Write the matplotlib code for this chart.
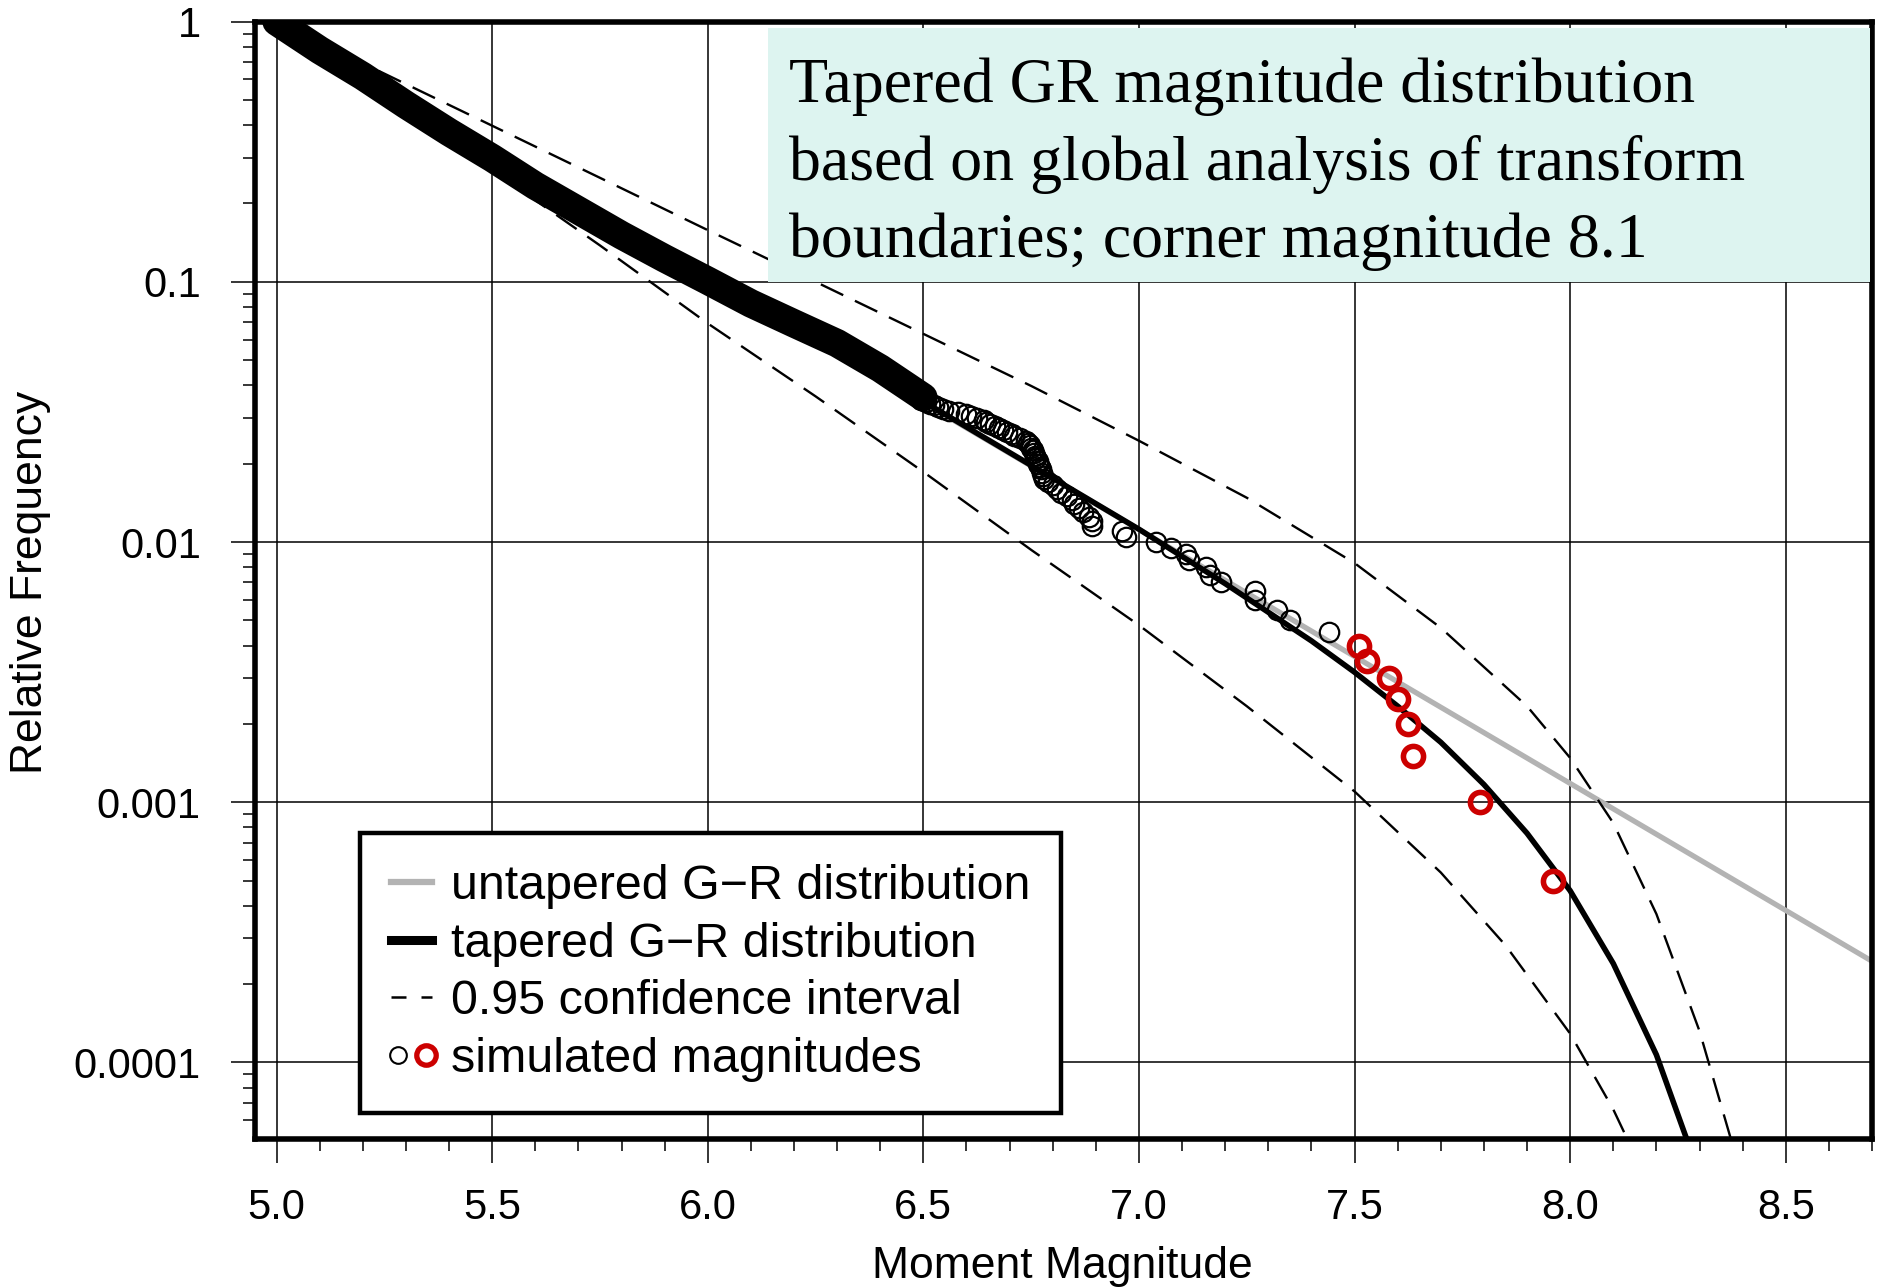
import numpy as np
import matplotlib
matplotlib.use("Agg")
import matplotlib.pyplot as plt
from matplotlib.lines import Line2D
from matplotlib.legend_handler import HandlerTuple
from matplotlib.patches import Rectangle
from matplotlib.ticker import FixedLocator, LogLocator, NullFormatter

# ---------------- data ----------------
x_ticks = [5.0, 5.5, 6.0, 6.5, 7.0, 7.5, 8.0, 8.5]
x_tick_labels = ["5.0", "5.5", "6.0", "6.5", "7.0", "7.5", "8.0", "8.5"]
y_ticks = [1.0, 0.1, 0.01, 0.001, 0.0001]
y_tick_labels = ["1", "0.1", "0.01", "0.001", "0.0001"]

# untapered G-R line
untapered_mag = [5.0, 8.7]
untapered_freq = [1.0, 2.45e-4]

# tapered G-R line
tapered_mag = [5.0, 5.5, 6.0, 6.5, 7.0, 7.2, 7.4, 7.5, 7.6, 7.7, 7.8, 7.9,
               8.0, 8.1, 8.2, 8.3]
tapered_freq = [1.0, 0.324, 0.107, 0.0347, 0.0112, 0.00692, 0.00417,
                0.00316, 0.00234, 0.0017, 0.00117, 0.00076, 0.000457,
                0.00024, 0.000107, 3.7e-5]

# 0.95 confidence interval
upper_mag = [5.0, 5.25, 5.5, 5.75, 6.0, 6.25, 6.5, 6.75, 7.0, 7.25, 7.5,
             7.7, 7.9, 8.0, 8.1, 8.2, 8.3, 8.4]
upper_freq = [1.0, 0.631, 0.398, 0.251, 0.158, 0.1, 0.0631, 0.0398, 0.0245,
              0.0148, 0.0083, 0.00468, 0.00234, 0.00148, 0.000832,
              0.000372, 0.000132, 3.55e-5]
lower_mag = [5.0, 5.25, 5.5, 5.75, 6.0, 6.25, 6.5, 6.75, 7.0, 7.25, 7.5,
             7.7, 7.85, 8.0, 8.1, 8.2]
lower_freq = [1.0, 0.525, 0.269, 0.138, 0.0692, 0.0363, 0.0186, 0.00933,
              0.00479, 0.00234, 0.0011, 0.000537, 0.000282, 0.000129,
              6.6e-5, 2.95e-5]

# simulated magnitudes: dense part of the sample (overlapping circles)
band_mag = [5.0, 5.1, 5.2, 5.3, 5.4, 5.5, 5.6, 5.7, 5.8, 5.9, 6.0, 6.1, 6.2,
            6.3, 6.4, 6.5]
band_freq = [1.0, 0.777, 0.617, 0.479, 0.376, 0.299, 0.234, 0.188, 0.151,
             0.123, 0.101, 0.0826, 0.0692, 0.0581, 0.0465, 0.036]

# simulated magnitudes: separately visible black circles
black_mag = [6.495, 6.505, 6.515, 6.525, 6.535, 6.545, 6.56, 6.58, 6.60, 6.61,
             6.625, 6.64, 6.645, 6.655, 6.665, 6.675, 6.685, 6.695, 6.705,
             6.71, 6.725, 6.738, 6.743, 6.747, 6.75, 6.754, 6.757, 6.76,
             6.762, 6.765, 6.767, 6.77, 6.772, 6.775, 6.778, 6.78, 6.79,
             6.80, 6.809, 6.82, 6.832, 6.845, 6.85, 6.86, 6.87, 6.885, 6.89,
             6.89, 6.96, 6.97, 7.04, 7.075, 7.11, 7.115, 7.155, 7.165, 7.19,
             7.27, 7.27, 7.32, 7.35, 7.44]
black_freq = [0.035, 0.0345, 0.034, 0.0335, 0.033, 0.0325, 0.032, 0.0315,
              0.031, 0.0305, 0.030, 0.0295, 0.029, 0.0285, 0.028, 0.0275,
              0.027, 0.0265, 0.026, 0.0255, 0.025, 0.0245, 0.024, 0.0235,
              0.023, 0.0225, 0.022, 0.0215, 0.021, 0.0205, 0.020, 0.0195,
              0.019, 0.0185, 0.018, 0.0175, 0.017, 0.0165, 0.016, 0.0155,
              0.015, 0.0145, 0.014, 0.0135, 0.013, 0.0125, 0.012, 0.0115,
              0.011, 0.0105, 0.010, 0.0095, 0.009, 0.0085, 0.008, 0.0075,
              0.007, 0.0065, 0.006, 0.0055, 0.005, 0.0045]

# largest simulated magnitudes (red)
red_mag = [7.51, 7.53, 7.58, 7.60, 7.625, 7.635, 7.79, 7.96]
red_freq = [0.004, 0.0035, 0.003, 0.0025, 0.002, 0.0015, 0.001, 0.0005]

legend_labels = ["untapered G\u2212R distribution",
                 "tapered G\u2212R distribution",
                 "0.95 confidence interval",
                 "simulated magnitudes"]
box_lines = ["Tapered GR magnitude distribution",
             "based on global analysis of transform",
             "boundaries; corner magnitude 8.1"]

# ---------------- styling ----------------
plt.rcParams['font.family'] = ['Liberation Sans', 'DejaVu Sans']
W, H, DPI = 1878, 1288, 100
fig = plt.figure(figsize=(W / DPI, H / DPI), dpi=DPI)
fig.patch.set_facecolor('white')


def fx(px):
    return px / W


def fy(py):
    return 1 - py / H


ax_l, ax_r, ax_t, ax_b = 255, 1872, 21.6, 1139
ax = fig.add_axes([fx(ax_l), fy(ax_b), (ax_r - ax_l) / W, (ax_b - ax_t) / H])
ax.set_yscale('log')
ax.set_xlim(4.95, 8.7)
ax.set_ylim(5.08e-5, 1.0)

GRAY = '#B3B3B3'
RED = '#CC0000'
dash = (0, (10.5, 5.5))

ax.plot(untapered_mag, untapered_freq, color=GRAY, lw=3.8, zorder=3,
        solid_capstyle='butt')
ax.plot(tapered_mag, tapered_freq, color='black', lw=4.0, zorder=3)
ax.plot(upper_mag, upper_freq, color='black', lw=1.7, ls=dash, zorder=3)
ax.plot(lower_mag, lower_freq, color='black', lw=1.7, ls=dash, zorder=3)

ax.plot(band_mag, band_freq, color='black', lw=20.5, zorder=4,
        solid_capstyle='round', solid_joinstyle='round')
ax.plot(black_mag, black_freq, ls='none', marker='o', mfc='none',
        mec='black', ms=14, mew=1.6, zorder=4)
ax.plot(red_mag, red_freq, ls='none', marker='o', mfc='none',
        mec=RED, ms=14.5, mew=4.0, zorder=5)

# ticks
ax.xaxis.set_major_locator(FixedLocator(x_ticks))
ax.set_xticklabels(x_tick_labels)
ax.xaxis.set_minor_locator(FixedLocator(np.round(np.arange(5.0, 8.71, 0.1), 1)))
ax.yaxis.set_major_locator(FixedLocator(y_ticks))
ax.set_yticklabels(y_tick_labels)
ax.yaxis.set_minor_locator(LogLocator(base=10, subs=np.arange(2, 10), numticks=20))
ax.yaxis.set_minor_formatter(NullFormatter())

ax.tick_params(axis='both', which='major', direction='out', length=17,
               width=1.1, labelsize=30, color='black')
ax.tick_params(axis='both', which='minor', direction='out', length=8.6,
               width=1.1, color='black')
ax.tick_params(axis='x', which='major', pad=18)
ax.tick_params(axis='y', which='major', pad=22)

ax.grid(True, which='major', color='black', lw=1.1)
ax.set_axisbelow(True)
for s in ax.spines.values():
    s.set_linewidth(4)
    s.set_zorder(6)

fig.text(fx(1062), fy(1278), "Moment Magnitude", fontsize=32,
         ha='center', va='baseline')
fig.text(fx(42), fy(582), "Relative Frequency", fontsize=32, rotation=90,
         rotation_mode='anchor', ha='center', va='baseline')

# legend
h1 = Line2D([], [], color=GRAY, lw=4.5)
h2 = Line2D([], [], color='black', lw=6.5)
h3 = Line2D([], [], color='black', lw=1.8, ls=(0, (6, 6)))
h4a = Line2D([], [], ls='none', marker='o', mfc='none', mec='black', ms=12,
             mew=1.5)
h4b = Line2D([], [], ls='none', marker='o', mfc='none', mec=RED, ms=14,
             mew=3.8)
leg = ax.legend([h1, h2, h3, (h4a, h4b)], legend_labels,
                handler_map={tuple: HandlerTuple(ndivide=None, pad=0.3)},
                loc='upper left', bbox_to_anchor=(0.0649, 0.2736),
                borderaxespad=0, fontsize=34.8, handlelength=0.86,
                handletextpad=0.38, borderpad=0.64, labelspacing=0.26,
                frameon=True, fancybox=False, edgecolor='black',
                facecolor='white', framealpha=1)
leg.get_frame().set_linewidth(3.2)
leg.set_zorder(7)

# text box
box = Rectangle((fx(768), fy(282)), fx(1870) - fx(768), fy(28) - fy(282),
                transform=fig.transFigure, facecolor='#DDF4F0',
                edgecolor='none', zorder=10)
fig.add_artist(box)
for line, base in zip(box_lines, [102, 180, 257]):
    fig.text(fx(789), fy(base), line, fontsize=46,
             family=['Liberation Serif', 'DejaVu Serif'],
             ha='left', va='baseline', zorder=11)

fig.savefig("out.png", dpi=DPI)
